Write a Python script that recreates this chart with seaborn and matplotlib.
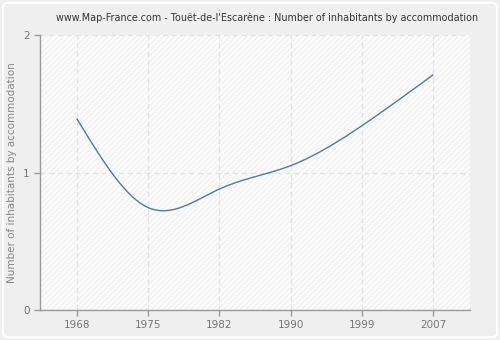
import numpy as np
import pandas as pd
import matplotlib
matplotlib.use("Agg")
import matplotlib.pyplot as plt
from matplotlib.patches import FancyBboxPatch
import seaborn as sns

years = ["1968", "1975", "1982", "1990", "1999", "2007"]
values = [1.39, 0.745, 0.88, 1.05, 1.34, 1.71]
title = "www.Map-France.com - Touët-de-l'Escarène : Number of inhabitants by accommodation"
ylabel = "Number of inhabitants by accommodation"

sns.set_style("white")
plt.rcParams['font.family'] = ['DejaVu Sans']

# natural cubic spline for the smooth drawing of the line through the data points
def natural_spline(x, y, xs):
    x = np.asarray(x, float); y = np.asarray(y, float)
    n = len(x)
    h = np.diff(x)
    A = np.zeros((n, n)); r = np.zeros(n)
    A[0, 0] = A[-1, -1] = 1
    for i in range(1, n - 1):
        A[i, i - 1] = h[i - 1]; A[i, i] = 2 * (h[i - 1] + h[i]); A[i, i + 1] = h[i]
        r[i] = 3 * ((y[i + 1] - y[i]) / h[i] - (y[i] - y[i - 1]) / h[i - 1])
    c = np.linalg.solve(A, r)
    b = (np.diff(y) / h) - h * (2 * c[:-1] + c[1:]) / 3
    d = np.diff(c) / (3 * h)
    idx = np.clip(np.searchsorted(x, xs) - 1, 0, n - 2)
    dx = xs - x[idx]
    return y[idx] + b[idx] * dx + c[idx] * dx ** 2 + d[idx] * dx ** 3

pos = np.arange(len(years))
xs = np.linspace(0, len(years) - 1, 300)
df = pd.DataFrame({"x": xs, "y": natural_spline(pos, values, xs)})

fig = plt.figure(figsize=(5, 3.4), dpi=100)
fig.patch.set_facecolor("#efefef")
fig.patches.append(FancyBboxPatch((0.006, 0.008), 0.988, 0.984, boxstyle="round,pad=0,rounding_size=0.012",
                                  transform=fig.transFigure, facecolor="none", edgecolor="white",
                                  linewidth=1.5, zorder=0))
ax = fig.add_axes([0.08, 0.088, 0.86, 0.809])
ax.set_facecolor("#fcfcfc")
ax.add_patch(plt.Rectangle((0, 0), 1, 1, transform=ax.transAxes, facecolor="none",
                           edgecolor="#f1f1f1", hatch="//////", linewidth=0, zorder=0))

sns.lineplot(data=df, x="x", y="y", ax=ax, color="#4f79ad", linewidth=1.0, zorder=3)

ax.set_xlim(-0.52, 5.52)
ax.set_ylim(0, 2)
ax.set_xticks(pos)
ax.set_xticklabels(years)
ax.set_yticks([0, 1, 2])
ax.set_xlabel("")
ax.set_ylabel(ylabel, fontsize=7.5, color="#888888")
ax.grid(True, color="#e2e2e2", linestyle=(0, (4, 3)), linewidth=0.9)
for s in ["top", "right"]:
    ax.spines[s].set_visible(False)
for s in ["left", "bottom"]:
    ax.spines[s].set_color("#999999")
    ax.spines[s].set_linewidth(1)
ax.tick_params(axis="both", colors="#999999", labelcolor="#777777", labelsize=7.5,
               length=4, width=1, direction="out", left=True, bottom=True)
fig.text(0.535, 0.947, title, ha="center", va="center", fontsize=6.9, color="#333333")

fig.savefig("out.png", dpi=100, facecolor=fig.get_facecolor())
